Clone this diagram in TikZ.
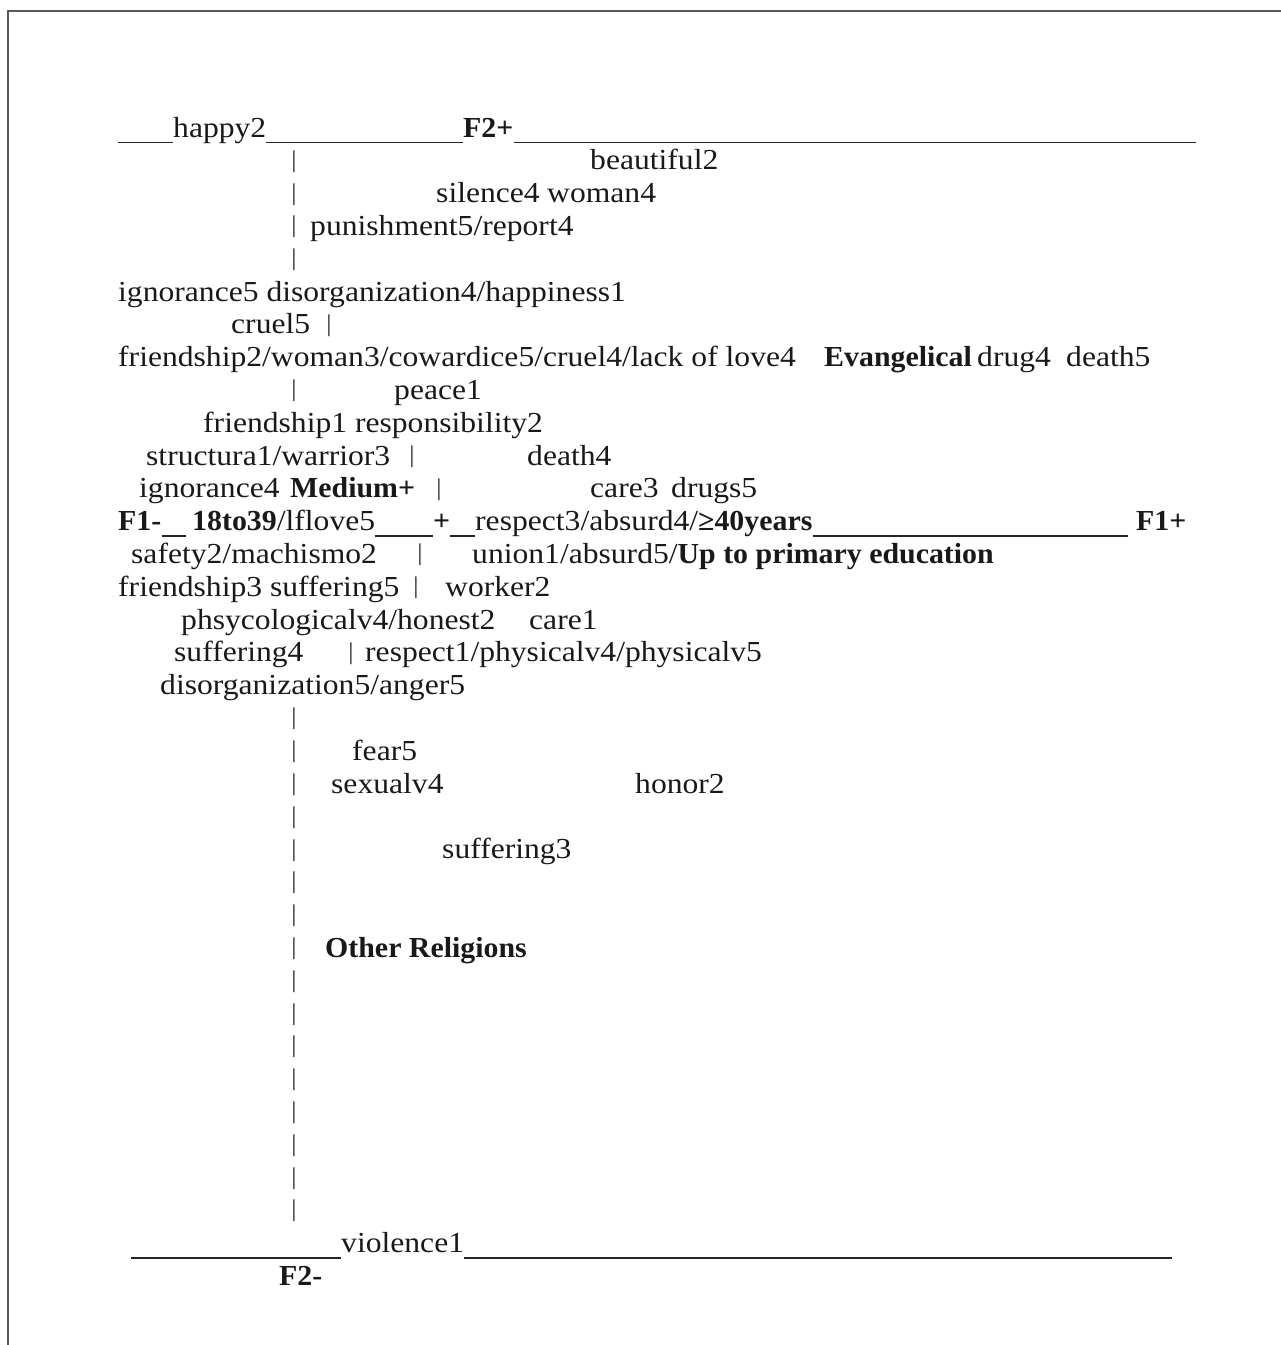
\documentclass[tikz,border=0pt]{standalone}
\usepackage{fontspec}
\setmainfont{Liberation Serif}[UprightFeatures={FakeStretch=1.09}, BoldFeatures={FakeStretch=1.03}]
\begin{document}
\begin{tikzpicture}[x=1pt,y=-1pt,
  txt/.style={anchor=base west, inner sep=0pt, font=\fontsize{29}{34}\selectfont, text=black!90},
  bartxt/.style={anchor=base, inner sep=0pt, font=\fontsize{24}{28}\selectfont, text=black!85, yshift=2.5pt},
  uline/.style={line width=1.6pt, draw=black!85},
  frame/.style={line width=1.5pt, draw=black!65}]
\useasboundingbox (0,0) rectangle (1281,1345);
\draw[frame] (8,1345) -- (8,11) -- (1281,11);

% row 0
\coordinate (l0a) at (118,142.5);
\coordinate (l0b) at (1196,142.5);
\node[txt] (happy) at (173,137) {happy2};
\node[txt] (f2p) at (463,137) {\textbf{F2+}};
\draw[uline] (l0a) -- (l0a -| happy.west);
\draw[uline] (l0a -| happy.east) -- (l0a -| f2p.west);
\draw[uline] (l0a -| f2p.east) -- (l0b);

% axis bars
\foreach \k in {1,2,3,4,8,18,19,...,33}
  \node[bartxt] (bar\k) at (294,{137+32.8*\k}) {|};

% row 1
\node[txt] (beautiful) at (590,169.8) {beautiful2};
% row 2
\node[txt] (silence) at (436,202.6) {silence4};
\node[txt] (woman4) at (547,202.6) {woman4};
% row 3
\node[txt] (punish) at (310,235.4) {punishment5/report4};
% row 5
\node[txt] (ign5) at (118,301) {ignorance5 disorganization4/happiness1};
% row 6
\node[txt] (cruel5) at (231,333.8) {cruel5};
\node[bartxt] (bar6) at (329,333.8) {|};
% row 7
\node[txt] (friend2) at (118,366.6) {friendship2/woman3/cowardice5/cruel4/lack of love4};
\node[txt] (evang) at (824,366.6) {\textbf{Evangelical}};
\node[txt] (drug4) at (977,366.6) {drug4};
\node[txt] (death5) at (1066,366.6) {death5};
% row 8
\node[txt] (peace) at (394,399.4) {peace1};
% row 9
\node[txt] (friend1) at (203,432.2) {friendship1 responsibility2};
% row 10
\node[txt] (struct) at (146,465) {structura1/warrior3};
\node[bartxt] (bar10) at (412,465) {|};
\node[txt] (death4) at (527,465) {death4};
% row 11
\node[txt] (ign4) at (139,497.8) {ignorance4};
\node[txt] (medium) at (290,497.8) {\textbf{Medium+}};
\node[bartxt] (bar11) at (439,497.8) {|};
\node[txt] (care3) at (590,497.8) {care3};
\node[txt] (drugs5) at (671,497.8) {drugs5};
% row 12
\coordinate (l12) at (118,536.1);
\node[txt] (f1m) at (118,530.6) {\textbf{F1-}};
\node[txt] (age) at (192,530.6) {\textbf{18to39}/lflove5};
\node[txt] (plus) at (433,530.6) {\textbf{+}};
\node[txt] (resp3) at (475,530.6) {respect3/absurd4/\textbf{≥40years}};
\node[txt] (f1p) at (1136,530.6) {\textbf{F1+}};
\draw[uline] (l12 -| f1m.east) -- ([xshift=-6pt]l12 -| age.west);
\draw[uline] (l12 -| age.east) -- (l12 -| plus.west);
\draw[uline] (l12 -| plus.east) -- (l12 -| resp3.west);
\draw[uline] (l12 -| resp3.east) -- ([xshift=-8pt]l12 -| f1p.west);
% row 13
\node[txt] (safety) at (131,563.4) {safety2/machismo2};
\node[bartxt] (bar13) at (420,563.4) {|};
\node[txt] (union) at (472,563.4) {union1/absurd5/\textbf{Up to primary education}};
% row 14
\node[txt] (friend3) at (118,596.2) {friendship3 suffering5};
\node[bartxt] (bar14) at (416,596.2) {|};
\node[txt] (worker) at (445,596.2) {worker2};
% row 15
\node[txt] (phsy) at (181,629) {phsycologicalv4/honest2};
\node[txt] (care1) at (529,629) {care1};
% row 16
\node[txt] (suff4) at (174,661.8) {suffering4};
\node[bartxt] (bar16) at (351,661.8) {|};
\node[txt] (resp1) at (365,661.8) {respect1/physicalv4/physicalv5};
% row 17
\node[txt] (disorg5) at (160,694.6) {disorganization5/anger5};
% row 19
\node[txt] (fear) at (352,760.2) {fear5};
% row 20
\node[txt] (sexual) at (331,793) {sexualv4};
\node[txt] (honor) at (635,793) {honor2};
% row 22
\node[txt] (suff3) at (442,858.6) {suffering3};
% row 25
\node[txt] (other) at (325,957) {\textbf{Other Religions}};
% row 34
\coordinate (l34a) at (131,1257.7);
\coordinate (l34b) at (1172,1257.7);
\node[txt] (viol) at (341,1252.2) {violence1};
\draw[uline] (l34a) -- (l34a -| viol.west);
\draw[uline] (l34a -| viol.east) -- (l34b);
% row 35
\node[txt] (f2m) at (279,1285) {\textbf{F2-}};
\end{tikzpicture}
\end{document}
